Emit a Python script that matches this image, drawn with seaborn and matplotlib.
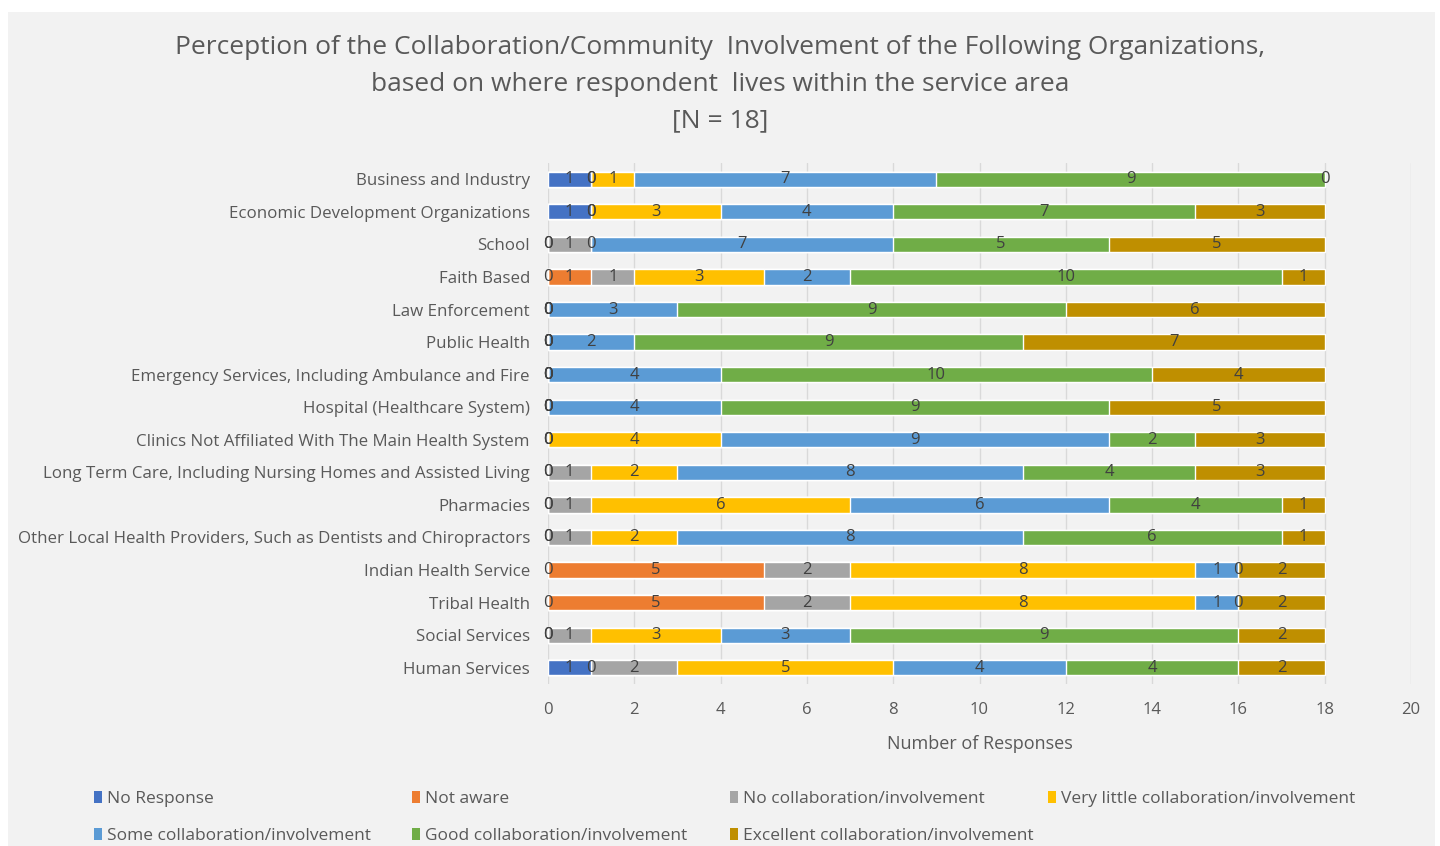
import matplotlib
matplotlib.use("Agg")
import matplotlib.pyplot as plt
from matplotlib.patches import Patch, Rectangle
import numpy as np
import pandas as pd
import seaborn as sns

# Organizations, listed top to bottom
organizations = [
    "Business and Industry",
    "Economic Development Organizations",
    "School",
    "Faith Based",
    "Law Enforcement",
    "Public Health",
    "Emergency Services, Including Ambulance and Fire",
    "Hospital (Healthcare System)",
    "Clinics Not Affiliated With The Main Health System",
    "Long Term Care, Including Nursing Homes and Assisted Living",
    "Pharmacies",
    "Other Local Health Providers, Such as Dentists and Chiropractors",
    "Indian Health Service",
    "Tribal Health",
    "Social Services",
    "Human Services",
]

levels = [
    "No Response",
    "Not aware",
    "No collaboration/involvement",
    "Very little collaboration/involvement",
    "Some collaboration/involvement",
    "Good collaboration/involvement",
    "Excellent collaboration/involvement",
]

no_response = [1, 1, 0, 0, 0, 0, 0, 0, 0, 0, 0, 0, 0, 0, 0, 1]
not_aware   = [0, 0, 0, 1, 0, 0, 0, 0, 0, 0, 0, 0, 5, 5, 0, 0]
no_collab   = [0, 0, 1, 1, 0, 0, 0, 0, 0, 1, 1, 1, 2, 2, 1, 2]
very_little = [1, 3, 0, 3, 0, 0, 0, 0, 4, 2, 6, 2, 8, 8, 3, 5]
some        = [7, 4, 7, 2, 3, 2, 4, 4, 9, 8, 6, 8, 1, 1, 3, 4]
good        = [9, 7, 5, 10, 9, 9, 10, 9, 2, 4, 4, 6, 0, 0, 9, 4]
excellent   = [0, 3, 5, 1, 6, 7, 4, 5, 3, 3, 1, 1, 2, 2, 2, 2]

colors = ["#4472C4", "#ED7D31", "#A5A5A5", "#FFC000", "#5B9BD5", "#70AD47", "#BF8F00"]

title_text = ("Perception of the Collaboration/Community  Involvement of the Following Organizations,\n"
              "based on where respondent  lives within the service area\n"
              "[N = 18]")

series = [no_response, not_aware, no_collab, very_little, some, good, excellent]
values = np.array(series)             # shape (levels, organizations)
cumulative = np.cumsum(values, axis=0)

rows = []
for li, lvl in enumerate(levels):
    for oi, org in enumerate(organizations):
        rows.append({"Organization": org, "Level": lvl,
                     "value": values[li, oi], "cum": cumulative[li, oi]})
df = pd.DataFrame(rows)

sns.set_style("white")
plt.rcParams["font.family"] = ["Open Sans", "DejaVu Sans"]

TEXT = "#595959"
BG = "#F2F2F2"

fig = plt.figure(figsize=(14.4, 8.46), dpi=100, facecolor="white")
fig.patches.append(Rectangle((8 / 1440, 0), (1435 - 8) / 1440, 1 - 12 / 846,
                             transform=fig.transFigure, facecolor=BG,
                             edgecolor="none", zorder=-10))

ax = fig.add_axes([548 / 1440, 162 / 846, 863 / 1440, 521 / 846])
ax.set_facecolor(BG)

# Stacked bars: draw cumulative totals from the last level back to the first
for li in range(len(levels) - 1, -1, -1):
    sub = df[df["Level"] == levels[li]]
    sns.barplot(data=sub, x="cum", y="Organization", order=organizations,
                color=colors[li], saturation=1, width=0.47, orient="h",
                ax=ax, zorder=3)

# Value labels centred on each segment
for li in range(len(levels)):
    for oi in range(len(organizations)):
        v = values[li, oi]
        centre = cumulative[li, oi] - v / 2
        ax.text(centre, oi, f"{v}", ha="center", va="center",
                fontsize=12, color="#404040", zorder=5)

ax.set_xlim(0, 20)
ax.set_xticks(range(0, 21, 2))
ax.set_ylim(15.5, -0.5)
ax.xaxis.grid(True, color="#D9D9D9", lw=1, zorder=0)
ax.set_axisbelow(True)
for s in ax.spines.values():
    s.set_visible(False)
ax.tick_params(axis="both", length=0, labelcolor=TEXT)
ax.tick_params(axis="y", pad=13, labelsize=12.2)
ax.tick_params(axis="x", pad=13, labelsize=12)
ax.set_ylabel("")
ax.set_xlabel("Number of Responses", fontsize=13, color=TEXT, labelpad=12)

fig.text(0.5, 1 - 35 / 846, title_text, ha="center", va="top",
         fontsize=19, color=TEXT, linespacing=1.62)

# Legend in four columns, two rows
col_x = [94, 412, 730, 1048]
columns = [[0, 4], [1, 5], [2, 6], [3]]
for cx, idxs in zip(col_x, columns):
    handles = [Patch(facecolor=colors[i], edgecolor="none") for i in idxs]
    labels = [levels[i] for i in idxs]
    fig.legend(handles, labels, loc="upper left",
               bbox_to_anchor=(cx / 1440, 1 - 791 / 846),
               frameon=False, fontsize=12.5, labelcolor=TEXT,
               handlelength=0.45, handleheight=0.65, handletextpad=0.3,
               labelspacing=1.2, borderpad=0, borderaxespad=0)

fig.savefig("out.png", dpi=100, facecolor=fig.get_facecolor())
